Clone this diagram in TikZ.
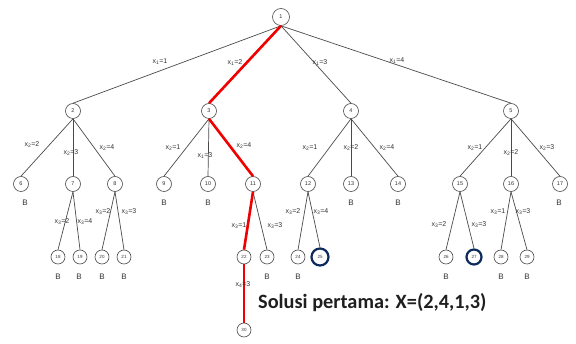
\documentclass[tikz,border=0pt]{standalone}
\usepackage{fontspec}
\setmainfont{Liberation Sans}
\newfontfamily\solfont{Carlito}
\definecolor{edgec}{HTML}{4A4A4A}
\definecolor{txt}{HTML}{333333}
\definecolor{hot}{HTML}{F00000}
\definecolor{goal}{HTML}{0D2A5C}
\newcommand{\xv}[2]{x\textsubscript{#1}=#2}
\tikzset{
  nd/.style={circle, draw=edgec, line width=0.6pt, fill=white, minimum size=15pt,
             inner sep=0pt, font=\fontsize{5.5}{5.5}\selectfont, text=txt},
  small/.style={nd, minimum size=14pt, font=\fontsize{4.5}{4.5}\selectfont},
  goalnd/.style={small, draw=goal, line width=2.2pt},
  edge/.style={draw=edgec, line width=0.7pt},
  hotedge/.style={draw=hot, line width=2.6pt},
  lbl/.style={inner sep=0pt, font=\fontsize{7}{7}\selectfont, text=txt},
  bnd/.style={inner sep=0pt, font=\fontsize{8}{8}\selectfont, text=txt},
}
\begin{document}
\begin{tikzpicture}[x=1pt, y=-1pt]
  \useasboundingbox (0,0) rectangle (576,344);
  % level 1
  \node[nd, minimum size=17pt] (n1) at (281,17) {1};
  % level 2
  \node[nd] (n2) at (73,111) {2};
  \node[nd] (n3) at (209,111) {3};
  \node[nd] (n4) at (351,111) {4};
  \node[nd] (n5) at (511,111) {5};
  % level 3
  \node[nd] (n6)  at (21,184)  {6};
  \node[nd] (n7)  at (73,184)  {7};
  \node[nd] (n8)  at (115,184) {8};
  \node[nd] (n9)  at (164,184) {9};
  \node[nd] (n10) at (208,184) {10};
  \node[nd] (n11) at (253,184) {11};
  \node[nd] (n12) at (308,184) {12};
  \node[nd] (n13) at (351,184) {13};
  \node[nd] (n14) at (398,184) {14};
  \node[nd] (n15) at (460,184) {15};
  \node[nd] (n16) at (511,184) {16};
  \node[nd] (n17) at (560,184) {17};
  % level 4
  \node[small] (n18) at (58,257)  {18};
  \node[small] (n19) at (80,257)  {19};
  \node[small] (n20) at (102,257) {20};
  \node[small] (n21) at (124,257) {21};
  \node[small] (n22) at (244,257) {22};
  \node[small] (n23) at (267,257) {23};
  \node[small] (n24) at (298,257) {24};
  \node[goalnd, minimum size=17pt] (n25) at (320,257) {25};
  \node[small] (n26) at (446,257) {26};
  \node[goalnd, minimum size=0pt, minimum width=13pt, minimum height=15pt] (n27) at (474,257) {27};
  \node[small] (n28) at (501,257) {28};
  \node[small] (n29) at (527,257) {29};
  % level 5
  \node[small] (n30) at (244,330) {30};

  % connectors
  \foreach \p/\c in {n1/n2, n1/n4, n1/n5,
                     n2/n6, n2/n7, n2/n8, n3/n9, n3/n10,
                     n4/n12, n4/n13, n4/n14, n5/n15, n5/n16, n5/n17,
                     n7/n18, n7/n19, n8/n20, n8/n21, n11/n23,
                     n12/n24, n12/n25, n15/n26, n15/n27, n16/n28, n16/n29}
    \draw[edge] (\p.south) -- (\c.north);
  \foreach \p/\c in {n1/n3, n3/n11, n11/n22, n22/n30}
    \draw[hotedge] (\p.south) -- (\c.north);

  % edge labels
  \node[lbl] (l1)  at (160,62)  {\xv{1}{1}};
  \node[lbl] (l2)  at (235,63)  {\xv{1}{2}};
  \node[lbl] (l3)  at (320,63)  {\xv{1}{3}};
  \node[lbl] (l4)  at (397,61)  {\xv{1}{4}};
  \node[lbl] (l5)  at (32,145)  {\xv{2}{2}};
  \node[lbl] (l6)  at (71,153)  {\xv{2}{3}};
  \node[lbl] (l7)  at (107,148) {\xv{2}{4}};
  \node[lbl] (l8)  at (173,148) {\xv{2}{1}};
  \node[lbl] (l9)  at (205,156) {\xv{1}{3}};
  \node[lbl] (l10) at (244,146) {\xv{2}{4}};
  \node[lbl] (l11) at (310,148) {\xv{2}{1}};
  \node[lbl] (l12) at (351,148) {\xv{2}{2}};
  \node[lbl] (l13) at (387,148) {\xv{2}{4}};
  \node[lbl] (l14) at (475,148) {\xv{2}{1}};
  \node[lbl] (l15) at (511,153) {\xv{2}{2}};
  \node[lbl] (l16) at (547,148) {\xv{2}{3}};
  \node[lbl] (l17) at (62,222)  {\xv{3}{2}};
  \node[lbl] (l18) at (85,222)  {\xv{3}{4}};
  \node[lbl] (l19) at (103,212) {\xv{3}{2}};
  \node[lbl] (l20) at (129,212) {\xv{3}{3}};
  \node[lbl] (l21) at (239,226) {\xv{3}{1}};
  \node[lbl] (l22) at (275,226) {\xv{3}{3}};
  \node[lbl] (l23) at (293,212) {\xv{3}{2}};
  \node[lbl] (l24) at (321,212) {\xv{3}{4}};
  \node[lbl] (l25) at (439,225) {\xv{3}{2}};
  \node[lbl] (l26) at (479,225) {\xv{3}{3}};
  \node[lbl] (l27) at (498,212) {\xv{3}{1}};
  \node[lbl] (l28) at (523,212) {\xv{3}{3}};
  \node[lbl] (l29) at (243,285) {\xv{4}{3}};

  % bounded (killed) nodes
  \foreach \x/\y [count=\i] in {25/203, 164/203, 208/203, 351/203, 398/203, 559/203,
                   58/277, 79/277, 102/277, 124/277, 267/277, 298/277,
                   446/277, 501/277, 527/277}
    \node[bnd] (b\i) at (\x,\y) {B};

  % first solution
  \node[font=\solfont\bfseries\fontsize{20.3}{20.3}\selectfont, inner sep=0pt, anchor=west, text=black!88]
    (sol) at (258,303) {Solusi pertama: X=(2,4,1,3)};
\end{tikzpicture}
\end{document}
